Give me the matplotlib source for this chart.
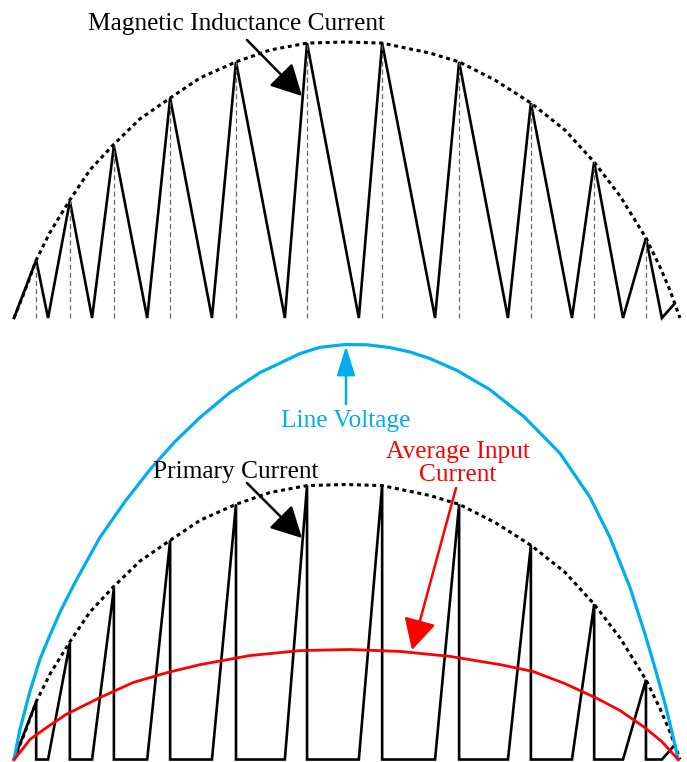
import matplotlib
matplotlib.use("Agg")
import matplotlib.pyplot as plt

# phase along the half line cycle (degrees)
valley_deg = [0, 9.2, 21.1, 36.0, 53.5, 73.2, 93.2, 113.8, 133.5, 150.8, 164.6, 175.1]
peak_deg = [6.0, 15.1, 27.0, 42.2, 60.0, 79.2, 99.5, 120.3, 139.7, 156.8, 170.8]
peak_val = [0.21, 0.424, 0.623, 0.797, 0.928, 0.996, 0.996, 0.928, 0.779, 0.565, 0.29]
tail_deg = 178.4
tail_val = 0.05

# peak-current envelope (dotted)
env_deg = [0, 3, 6, 9.7, 15.1, 20.5, 26.8, 34, 42.2, 50.3, 60, 69.2, 79.2, 89.5,
           99.5, 112.4, 120.3, 130, 139.7, 148.9, 156.8, 163.8, 170.8, 174.6, 177.3, 180]
env_val = [0, 0.10, 0.21, 0.31, 0.428, 0.536, 0.627, 0.721, 0.797, 0.87, 0.928, 0.971,
           0.996, 1.0, 0.996, 0.96, 0.928, 0.862, 0.779, 0.681, 0.565, 0.442, 0.29,
           0.185, 0.10, 0]

# line voltage (blue)
vline_deg = [0, 1.6, 4.3, 7.0, 9.2, 12.4, 16.5, 23.2, 30.0, 36.8, 43.5, 50.3, 58.4,
             66.5, 77.3, 82.7, 89.5, 95.4, 101.6, 107.0, 112.4, 119.7, 128.6, 137.8,
             147.6, 155.7, 161.1, 166.5, 170.5, 173.2, 176.0, 177.8, 179.5]
vline_val = [0, 0.109, 0.247, 0.364, 0.436, 0.535, 0.644, 0.807, 0.938, 1.055, 1.156,
             1.244, 1.335, 1.407, 1.476, 1.499, 1.509, 1.508, 1.498, 1.482, 1.458, 1.415,
             1.345, 1.247, 1.113, 0.953, 0.807, 0.625, 0.458, 0.335, 0.20, 0.102, 0]

# average input current (red)
iavg_deg = [0, 2.2, 4.3, 9.2, 14.1, 23.2, 32.2, 41.4, 50.3, 63.8, 77.3, 90.8, 104.3,
            117.8, 131.4, 140.3, 148.9, 157.6, 163.8, 170.5, 175.1, 179.5]
iavg_val = [0, 0.036, 0.073, 0.12, 0.164, 0.225, 0.28, 0.316, 0.345, 0.378, 0.396, 0.40,
            0.393, 0.375, 0.345, 0.32, 0.276, 0.222, 0.178, 0.116, 0.065, 0]

W, H = 687, 762
fig = plt.figure(figsize=(W / 100, H / 100), dpi=100)
plt.rcParams['font.family'] = ['Liberation Serif', 'DejaVu Serif']

xlim = (-14 / 3.7, (W - 14) / 3.7)
ax1 = fig.add_axes([0, 1 - 330 / H, 1, 330 / H])
ax1.set_xlim(xlim)
ax1.set_ylim(-12 / 276, 318 / 276)
ax2 = fig.add_axes([0, 0, 1, 432 / H])
ax2.set_xlim(xlim)
ax2.set_ylim(-2.5 / 275, 429.5 / 275)
for ax in (ax1, ax2):
    ax.axis('off')

dot = (0, (1.3, 1.2))

# --- top: magnetizing inductance current ---
xs, ys = [], []
for i in range(len(peak_deg)):
    xs += [valley_deg[i], peak_deg[i]]
    ys += [0, peak_val[i]]
xs += [valley_deg[-1], tail_deg]
ys += [0, tail_val]
ax1.plot(xs, ys, color='black', lw=1.9, solid_joinstyle='miter', clip_on=False)
ax1.plot(env_deg, env_val, color='black', lw=2.2, linestyle=dot, clip_on=False)
for d, v in zip(peak_deg, peak_val):
    ax1.plot([d, d], [0, v], color='#666666', lw=0.9, dashes=(4, 2.5), clip_on=False)

# --- bottom: primary current, line voltage, average current ---
xs, ys = [], []
for i in range(len(peak_deg)):
    xs += [valley_deg[i], peak_deg[i], peak_deg[i]]
    ys += [0, peak_val[i], 0]
xs += [valley_deg[-1], tail_deg]
ys += [0, tail_val]
ax2.plot(xs, ys, color='black', lw=1.9, solid_joinstyle='miter', clip_on=False)
ax2.plot(env_deg, env_val, color='black', lw=2.2, linestyle=dot, clip_on=False)
ax2.plot(vline_deg, vline_val, color='#00AEEF', lw=2.3, clip_on=False)
ax2.plot(iavg_deg, iavg_val, color='#FF0000', lw=2.0, clip_on=False)


def px(x, y):
    return (x / W, 1 - y / H)


fs = 18.3
fig.text(*px(236, 30), 'Magnetic Inductance Current', ha='center', va='baseline', fontsize=fs)
fig.text(*px(346, 427), 'Line Voltage', ha='center', va='baseline', fontsize=fs, color='#00AEEF')
fig.text(*px(236, 478), 'Primary Current', ha='center', va='baseline', fontsize=fs)
fig.text(*px(458, 458), 'Average Input', ha='center', va='baseline', fontsize=fs, color='#FF0000')
fig.text(*px(458, 481), 'Current', ha='center', va='baseline', fontsize=fs, color='#FF0000')

big = '-|>,head_length=0.95,head_width=0.5'
for tail, tip, c, style in [((247, 40), (302, 96), 'black', big),
                            ((247, 483), (302, 538), 'black', big),
                            ((456, 488), (412, 650), '#FF0000', big),
                            ((346, 404), (346, 346), '#00AEEF', '-|>,head_length=0.9,head_width=0.28')]:
    fig.patches.append(matplotlib.patches.FancyArrowPatch(
        px(*tail), px(*tip), transform=fig.transFigure, arrowstyle=style,
        mutation_scale=20, color=c, lw=1.8, shrinkA=0, shrinkB=0))

fig.savefig('out.png', dpi=100)
